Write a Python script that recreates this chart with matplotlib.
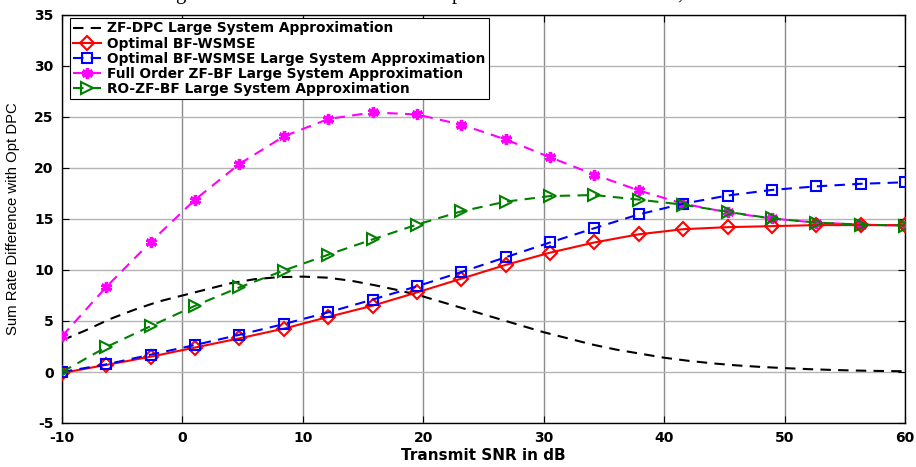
import numpy as np
import matplotlib
matplotlib.use("Agg")
import matplotlib.pyplot as plt

# =========================
# DATA
# =========================

# 20 marker positions from -10 to 60 dB
snr_db = np.linspace(-10, 60, 20)

opt_bf_wsmse = [-0.1, 0.7, 1.5, 2.4, 3.3, 4.25, 5.4, 6.5, 7.8, 9.15,
                10.5, 11.7, 12.7, 13.5, 14.0, 14.2, 14.3, 14.4, 14.4, 14.4]
opt_bf_wsmse_lsa = [0.0, 0.75, 1.7, 2.65, 3.65, 4.7, 5.85, 7.1, 8.4, 9.8,
                    11.25, 12.7, 14.1, 15.45, 16.5, 17.3, 17.85, 18.2, 18.45, 18.6]
full_zf_bf_lsa = [3.5, 8.35, 12.75, 16.9, 20.4, 23.1, 24.8, 25.45, 25.25, 24.25,
                  22.8, 21.05, 19.35, 17.8, 16.5, 15.65, 15.05, 14.65, 14.45, 14.35]
ro_zf_bf_lsa = [0.0, 2.45, 4.5, 6.5, 8.3, 9.95, 11.5, 13.0, 14.45, 15.75,
                16.7, 17.25, 17.35, 16.9, 16.4, 15.7, 15.05, 14.65, 14.45, 14.35]

# ZF-DPC large system approximation: smooth curve, no markers
zf_dpc_snr = np.arange(-10, 61, 2)
zf_dpc_lsa = [3.1, 4.1, 5.2, 6.1, 6.9, 7.5, 8.1, 8.7, 9.1, 9.3,
              9.35, 9.25, 8.95, 8.5, 8.0, 7.4, 6.7, 6.0, 5.3, 4.6,
              3.9, 3.3, 2.7, 2.2, 1.8, 1.4, 1.1, 0.85, 0.65, 0.5,
              0.38, 0.28, 0.2, 0.14, 0.1, 0.07]

labels = [
    "ZF-DPC Large System Approximation",
    "Optimal BF-WSMSE",
    "Optimal BF-WSMSE Large System Approximation",
    "Full Order ZF-BF Large System Approximation",
    "RO-ZF-BF Large System Approximation",
]

x_ticks = [-10, 0, 10, 20, 30, 40, 50, 60]
y_ticks = [-5, 0, 5, 10, 15, 20, 25, 30, 35]


def main():
    plt.rcParams["font.family"] = ["DejaVu Sans"]
    plt.rcParams["axes.unicode_minus"] = False

    fig = plt.figure(figsize=(9.16, 4.67), dpi=100)
    ax = fig.add_axes([62 / 916, 1 - 423 / 467, 843 / 916, 408 / 467])

    dash = (0, (5, 3.5))
    ax.plot(zf_dpc_snr, zf_dpc_lsa, color="black", linestyle=dash, lw=1.5,
            label=labels[0], zorder=3)
    ax.plot(snr_db, opt_bf_wsmse, color="red", linestyle="-", lw=1.5,
            marker="D", ms=7.5, mfc="none", mew=1.5, label=labels[1], zorder=4)
    ax.plot(snr_db, opt_bf_wsmse_lsa, color="blue", linestyle=dash, lw=1.5,
            marker="s", ms=6.5, mfc="none", mew=1.5, label=labels[2], zorder=5)
    ax.plot(snr_db, full_zf_bf_lsa, color="magenta", linestyle=dash, lw=1.5,
            marker=(6, 2, 0), ms=8, mew=2.4, label=labels[3], zorder=3)
    ax.plot(snr_db, ro_zf_bf_lsa, color="green", linestyle=dash, lw=1.5,
            marker=">", ms=8.5, mfc="none", mew=1.5, label=labels[4], zorder=6)

    ax.set_xlim(-10, 60)
    ax.set_ylim(-5, 35)
    ax.set_xticks(x_ticks)
    ax.set_yticks(y_ticks)

    # grid: vertical lines a bit darker than horizontal (as in the source)
    ax.xaxis.grid(True, color="#8a8a8a", lw=1.0)
    ax.yaxis.grid(True, color="#b4b4b4", lw=1.0)
    ax.set_axisbelow(True)

    for s in ax.spines.values():
        s.set_color("black")
        s.set_linewidth(1.0)

    ax.tick_params(direction="in", length=5, width=0.8, top=True, right=True,
                   labelsize=10, pad=6)
    for t in ax.get_xticklabels() + ax.get_yticklabels():
        t.set_fontweight("bold")

    ax.set_xlabel("Transmit SNR in dB", fontsize=11, fontweight="bold", labelpad=2)
    ax.set_ylabel("Sum Rate Difference with Opt DPC", fontsize=10.7,
                  family="Liberation Sans", labelpad=10)

    leg = ax.legend(
        loc="upper left",
        bbox_to_anchor=(8 / 843, 1 - 3 / 408),
        borderaxespad=0,
        prop={"weight": "bold", "size": 9.9},
        handlelength=2.0,
        handletextpad=0.45,
        labelspacing=0.08,
        borderpad=0.25,
        fancybox=False,
        framealpha=1,
        edgecolor="black",
    )
    leg.get_frame().set_linewidth(0.8)

    # bottom of a cropped caption line above the figure
    for ch, px in [("g", 180), ("p", 457), (",", 680)]:
        fig.text(px / 916, 1.003, ch, family="Liberation Serif", fontsize=15,
                 ha="center", va="baseline")

    fig.savefig("out.png", dpi=100)


if __name__ == "__main__":
    main()
